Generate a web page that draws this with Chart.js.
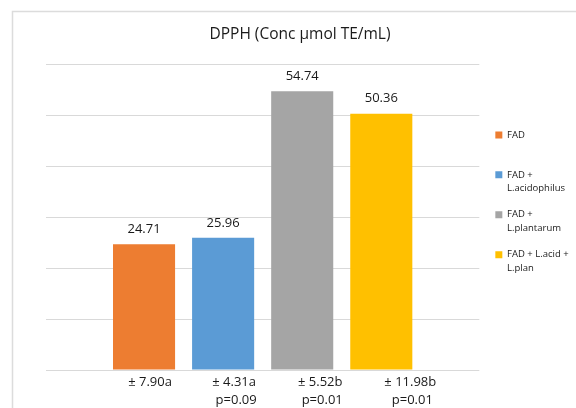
<!DOCTYPE html>
<html>
<head>
<meta charset="utf-8">
<script src="https://cdn.jsdelivr.net/npm/chart.js@4.4.1/dist/chart.umd.min.js"></script>
<style>
  html, body { margin: 0; padding: 0; background: #fff; }
  #wrap { width: 576px; height: 408px; position: relative; }
</style>
</head>
<body>
<div id="wrap"><canvas id="c" width="576" height="408"></canvas></div>
<script>
// DPPH radical scavenging, mean concentration per treatment (µmol TE/mL)
const seriesNames = ['FAD', 'FAD + L.acidophilus', 'FAD + L.plantarum', 'FAD + L.acid + L.plan'];
const legendLines = [['FAD', ''], ['FAD +', 'L.acidophilus'], ['FAD +', 'L.plantarum'], ['FAD + L.acid +', 'L.plan']];
const dpphValues = [24.71, 25.96, 54.74, 50.36];
const sdLabels = ['± 7.90a', '± 4.31a', '± 5.52b', '± 11.98b'];
const pLabels = ['', 'p=0.09', 'p=0.01', 'p=0.01'];
const seriesColors = ['#ED7D31', '#5B9BD5', '#A5A5A5', '#FFC000'];
const yTicks = [0, 10, 20, 30, 40, 50, 60];

// horizontal nudge of the statistics text under each bar
const statOffsets = [6, 11, 18, 29];

const FONT = '"Open Sans", "Liberation Sans", sans-serif';
const TEXT = '#1a1a1a';

const datasets = seriesNames.map((name, i) => ({
  label: name,
  data: [dpphValues[i]],
  backgroundColor: seriesColors[i],
  borderWidth: 0,
  categoryPercentage: 0.73,
  barPercentage: 0.785
}));

const framePlugin = {
  id: 'frame',
  beforeDraw(chart) {
    const ctx = chart.ctx;
    ctx.save();
    ctx.fillStyle = '#ffffff';
    ctx.fillRect(0, 0, chart.width, chart.height);
    ctx.strokeStyle = '#dcdcdc';
    ctx.lineWidth = 1.5;
    ctx.strokeRect(12.5, 11.5, 700, 500);
    ctx.restore();
  }
};

const barTextPlugin = {
  id: 'barText',
  afterDatasetsDraw(chart) {
    const ctx = chart.ctx;
    const area = chart.chartArea;
    ctx.save();
    ctx.fillStyle = TEXT;
    ctx.textAlign = 'center';
    ctx.textBaseline = 'middle';
    chart.data.datasets.forEach((ds, i) => {
      const bar = chart.getDatasetMeta(i).data[0];
      ctx.font = '13px ' + FONT;
      ctx.fillText(ds.data[0].toFixed(2), bar.x, bar.y - 15);
      const cx = bar.x + statOffsets[i];
      ctx.fillText(sdLabels[i], cx, area.bottom + 12);
      if (pLabels[i]) ctx.fillText(pLabels[i], cx + 2, area.bottom + 30);
    });
    ctx.restore();
  }
};

new Chart(document.getElementById('c'), {
  type: 'bar',
  data: { labels: ['DPPH'], datasets },
  options: {
    responsive: false,
    animation: false,
    devicePixelRatio: 1,
    layout: { padding: { left: 25, right: 1, top: 0, bottom: 0 } },
    plugins: {
      title: {
        display: true,
        text: 'DPPH (Conc µmol TE/mL)',
        color: TEXT,
        font: { family: FONT, size: 15.5, weight: 'normal', lineHeight: 1.2 },
        padding: { top: 25, bottom: 21 }
      },
      legend: {
        position: 'right',
        align: 'center',
        labels: {
          color: TEXT,
          boxWidth: 7,
          boxHeight: 7,
          padding: 12,
          font: { family: FONT, size: 9.5, lineHeight: 1.47 },
          generateLabels(chart) {
            return chart.data.datasets.map((ds, i) => ({
              text: legendLines[i],
              fillStyle: ds.backgroundColor,
              strokeStyle: ds.backgroundColor,
              lineWidth: 0,
              hidden: false,
              datasetIndex: i,
              fontColor: TEXT
            }));
          }
        }
      },
      tooltip: { enabled: false }
    },
    scales: {
      x: {
        grid: { display: false },
        border: { display: false },
        ticks: { display: false },
        afterFit(s) { s.height = 38; }
      },
      y: {
        min: 0,
        max: 60,
        afterBuildTicks(s) { s.ticks = yTicks.map(v => ({ value: v })); },
        grid: { color: '#d9d9d9', lineWidth: 1, drawTicks: false },
        border: { display: false },
        ticks: { display: false },
        afterFit(s) { s.width = 21; }
      },
      gap: {
        type: 'linear',
        position: 'right',
        display: true,
        grid: { display: false },
        border: { display: false },
        ticks: { display: false },
        afterFit(s) { s.width = 4; }
      }
    }
  },
  plugins: [framePlugin, barTextPlugin]
});
</script>
</body>
</html>
